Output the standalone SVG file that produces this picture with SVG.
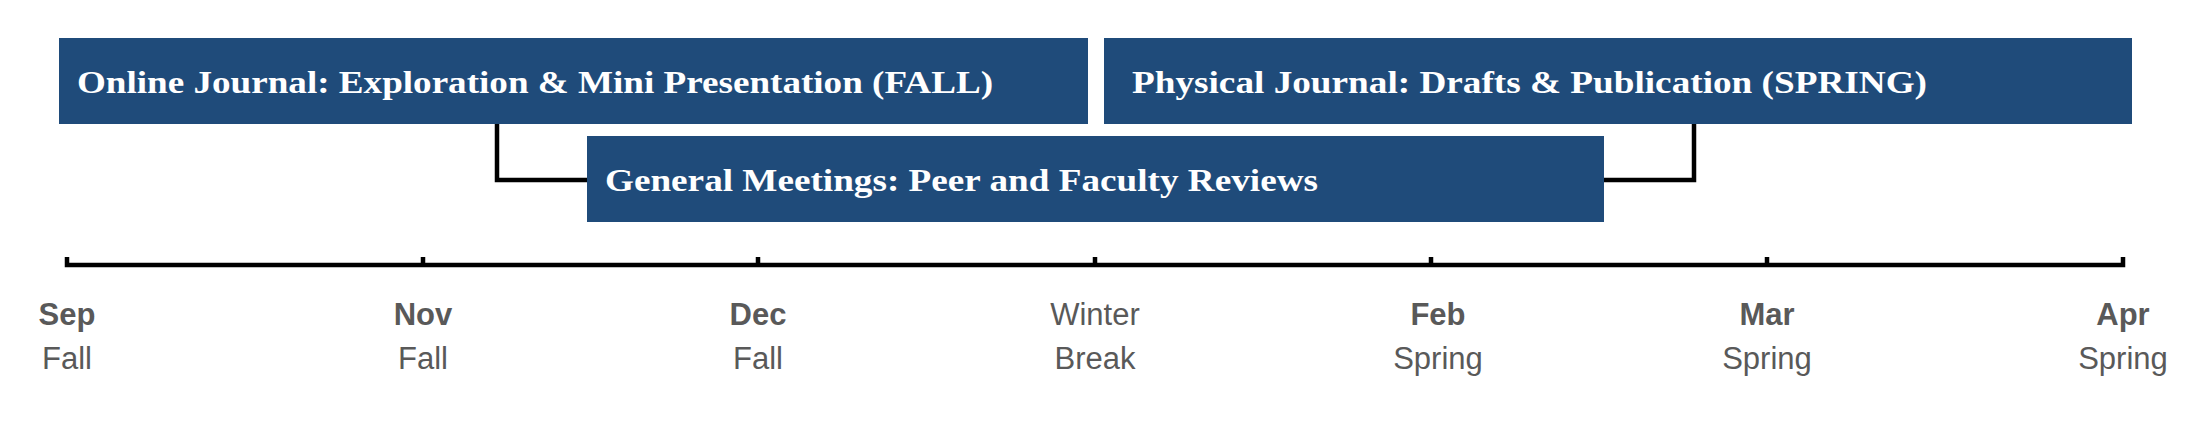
<svg xmlns="http://www.w3.org/2000/svg" width="2202" height="422" viewBox="0 0 2202 422">
<style>
.box{fill:#1f4b7a}
.bt{font-family:"Liberation Serif",serif;font-weight:bold;font-size:31px;fill:#fff}
.ln{stroke:#000;stroke-width:4.5;fill:none}
.m{font-family:"Liberation Sans",Arial,sans-serif;font-size:31px;fill:#595959;text-anchor:middle}
.b{font-weight:bold}
</style>
<rect width="2202" height="422" fill="#fff"/>
<g id="connectors">
<path class="ln" d="M497 124V180H587"/>
<path class="ln" d="M1604 180H1694V124"/>
<path class="ln" d="M67 257V265H2123V257M423 257V265M758 257V265M1095 257V265M1431 257V265M1767 257V265"/>
</g>
<g id="online"><rect class="box" x="59" y="38" width="1029" height="86"/><text class="bt" x="77" y="93" textLength="916" lengthAdjust="spacingAndGlyphs">Online Journal: Exploration &amp; Mini Presentation (FALL)</text></g>
<g id="physical"><rect class="box" x="1104" y="38" width="1028" height="86"/><text class="bt" x="1132" y="93" textLength="795" lengthAdjust="spacingAndGlyphs">Physical Journal: Drafts &amp; Publication (SPRING)</text></g>
<g id="meetings"><rect class="box" x="587" y="136" width="1017" height="86"/><text class="bt" x="605" y="191" textLength="713" lengthAdjust="spacingAndGlyphs">General Meetings: Peer and Faculty Reviews</text></g>
<g id="labels">
<text class="m b" x="67" y="325">Sep</text><text class="m" x="67" y="369">Fall</text>
<text class="m b" x="423" y="325">Nov</text><text class="m" x="423" y="369">Fall</text>
<text class="m b" x="758" y="325">Dec</text><text class="m" x="758" y="369">Fall</text>
<text class="m" x="1095" y="325">Winter</text><text class="m" x="1095" y="369">Break</text>
<text class="m b" x="1438" y="325">Feb</text><text class="m" x="1438" y="369">Spring</text>
<text class="m b" x="1767" y="325">Mar</text><text class="m" x="1767" y="369">Spring</text>
<text class="m b" x="2123" y="325">Apr</text><text class="m" x="2123" y="369">Spring</text>
</g>
</svg>
